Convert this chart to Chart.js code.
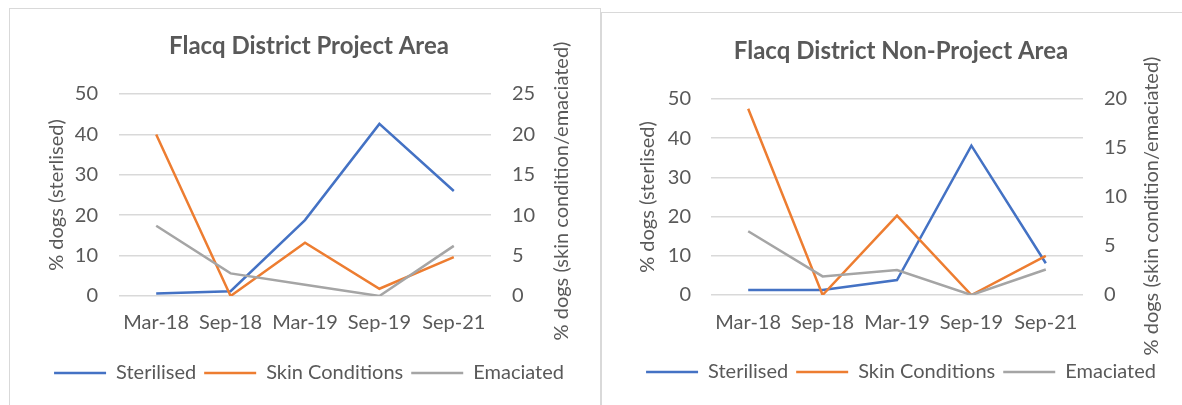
<!DOCTYPE html>
<html>
<head>
<meta charset="utf-8">
<script src="https://cdn.jsdelivr.net/npm/chart.js@4.4.1/dist/chart.umd.min.js"></script>
<style>
  html, body { margin: 0; padding: 0; background: #ffffff; }
  body { width: 1182px; height: 405px; position: relative; overflow: hidden; }
  .panel { position: absolute; border: 1.5px solid #d9d9d9; box-sizing: border-box; background: #fff; }
  #panelA { left: 9px; top: 8px; width: 592px; height: 420px; }
  #panelB { left: 601px; top: 12px; width: 600px; height: 420px; }
  canvas { position: absolute; }
  #chartA { left: 10px; top: 9px; }
  #chartB { left: 602px; top: 13px; }
</style>
</head>
<body>
<div class="panel" id="panelA"></div>
<div class="panel" id="panelB"></div>
<canvas id="chartA" width="590" height="396"></canvas>
<canvas id="chartB" width="580" height="392"></canvas>
<script>
// Survey rounds
const categories = ['Mar-18', 'Sep-18', 'Mar-19', 'Sep-19', 'Sep-21'];

// Project area (% of dogs)
const projectSterilised = [0.6, 1.2, 18.8, 42.6, 26.0];
const projectSkin = [20.0, 0, 6.6, 0.9, 4.8];
const projectEmaciated = [8.7, 2.8, 1.4, 0, 6.2];

// Non-project area (% of dogs)
const nonProjectSterilised = [1.3, 1.3, 3.8, 38.1, 8.1];
const nonProjectSkin = [19.0, 0, 8.1, 0, 4.0];
const nonProjectEmaciated = [6.5, 1.9, 2.55, 0, 2.6];

// Axis ticks
const leftTicks = [0, 10, 20, 30, 40, 50];
const projectRightTicks = [0, 5, 10, 15, 20, 25];
const nonProjectRightTicks = [0, 5, 10, 15, 20];

const seriesNames = ['Sterilised', 'Skin Conditions', 'Emaciated'];
const seriesColors = ['#4472C4', '#ED7D31', '#A5A5A5'];

const FONT = 'Lato, "Open Sans", sans-serif';
const TEXT = '#595959';
const GRID = '#d9d9d9';
const SIZE = 20;

// Secondary-axis title reading bottom-to-top, like the primary one
const rightAxisTitle = {
  id: 'rightAxisTitle',
  afterDraw(chart, args, opts) {
    const { ctx, chartArea } = chart;
    const scale = chart.scales.yR;
    ctx.save();
    ctx.font = `${SIZE}px ${FONT}`;
    ctx.fillStyle = TEXT;
    ctx.textAlign = 'center';
    ctx.textBaseline = 'middle';
    ctx.translate(scale.right - opts.offset, (chartArea.top + chartArea.bottom) / 2 + opts.shiftY);
    ctx.rotate(-Math.PI / 2);
    ctx.fillText(opts.text, 0, 0);
    ctx.restore();
  }
};

function buildChart(canvasId, cfg) {
  const ticksFrom = (arr) => (scale) => { scale.ticks = arr.map(v => ({ value: v })); };
  const datasets = [cfg.sterilised, cfg.skin, cfg.emaciated].map((values, i) => ({
    label: seriesNames[i],
    data: values,
    yAxisID: i === 0 ? 'yL' : 'yR',
    borderColor: seriesColors[i],
    backgroundColor: seriesColors[i],
    borderWidth: 2.5,
    pointRadius: 0,
    pointHoverRadius: 0,
    tension: 0,
    order: 3 - i
  }));

  return new Chart(document.getElementById(canvasId), {
    type: 'line',
    data: { labels: categories, datasets },
    plugins: [rightAxisTitle],
    options: {
      responsive: false,
      animation: false,
      events: [],
      layout: { padding: { left: cfg.padL, right: 0, top: 0, bottom: cfg.padB } },
      plugins: {
        tooltip: { enabled: false },
        title: {
          display: true,
          text: cfg.title,
          color: TEXT,
          font: { family: FONT, size: 24, weight: 'bold', lineHeight: 1.2 },
          padding: { top: cfg.titleTop, bottom: cfg.titleBottom }
        },
        legend: {
          display: true,
          position: 'bottom',
          labels: {
            color: TEXT,
            font: { family: FONT, size: SIZE, lineHeight: 1.2 },
            usePointStyle: true,
            pointStyle: 'line',
            pointStyleWidth: 52,
            boxHeight: SIZE,
            padding: 8,
            sort: (a, b) => a.datasetIndex - b.datasetIndex
          }
        },
        rightAxisTitle: {
          text: '% dogs (skin condition/emaciated)',
          offset: cfg.yRTitleOffset,
          shiftY: cfg.yRTitleShift
        }
      },
      scales: {
        x: {
          type: 'category',
          offset: true,
          grid: { display: false, drawTicks: false },
          border: { display: false },
          ticks: {
            color: TEXT,
            font: { family: FONT, size: SIZE, lineHeight: 1.2 },
            padding: cfg.xTickPad,
            maxRotation: 0,
            autoSkip: false
          },
          afterFit: (s) => { s.height = cfg.xAxisH; }
        },
        yL: {
          type: 'linear',
          position: 'left',
          min: 0,
          max: 50,
          afterBuildTicks: ticksFrom(leftTicks),
          grid: { color: GRID, lineWidth: 1.6, drawTicks: false },
          border: { display: false },
          ticks: { color: TEXT, font: { family: FONT, size: SIZE }, padding: cfg.yLTickPad },
          title: {
            display: true,
            text: '% dogs (sterlised)',
            color: TEXT,
            font: { family: FONT, size: SIZE, lineHeight: 1.2 },
            padding: { top: cfg.yLTitlePad, bottom: 0 }
          },
          afterFit: (s) => { s.width = cfg.yLWidth; }
        },
        yR: {
          type: 'linear',
          position: 'right',
          min: 0,
          max: cfg.rightMax,
          afterBuildTicks: ticksFrom(cfg.rightTicks),
          grid: { display: false, drawTicks: false },
          border: { display: false },
          ticks: { color: TEXT, font: { family: FONT, size: SIZE }, padding: cfg.yRTickPad },
          title: { display: false },
          afterFit: (s) => { s.width = cfg.yRWidth; }
        }
      }
    }
  });
}

buildChart('chartA', {
  title: 'Flacq District Project Area',
  sterilised: projectSterilised,
  skin: projectSkin,
  emaciated: projectEmaciated,
  rightMax: 25,
  rightTicks: projectRightTicks,
  padL: 8, padB: 12,
  titleTop: 22.6, titleBottom: 33.6,
  xAxisH: 59, xTickPad: 15,
  yLWidth: 101, yLTickPad: 21, yLTitlePad: 27,
  yRWidth: 109, yRTickPad: 21, yRTitleOffset: 38, yRTitleShift: -4
});

buildChart('chartB', {
  title: 'Flacq District Non-Project Area',
  sterilised: nonProjectSterilised,
  skin: nonProjectSkin,
  emaciated: nonProjectEmaciated,
  rightMax: 20,
  rightTicks: nonProjectRightTicks,
  padL: 18, padB: 13,
  titleTop: 23.6, titleBottom: 33.6,
  xAxisH: 59, xTickPad: 16,
  yLWidth: 91, yLTickPad: 20, yLTitlePad: 16,
  yRWidth: 99, yRTickPad: 21, yRTitleOffset: 30, yRTitleShift: 9
});
</script>
</body>
</html>
